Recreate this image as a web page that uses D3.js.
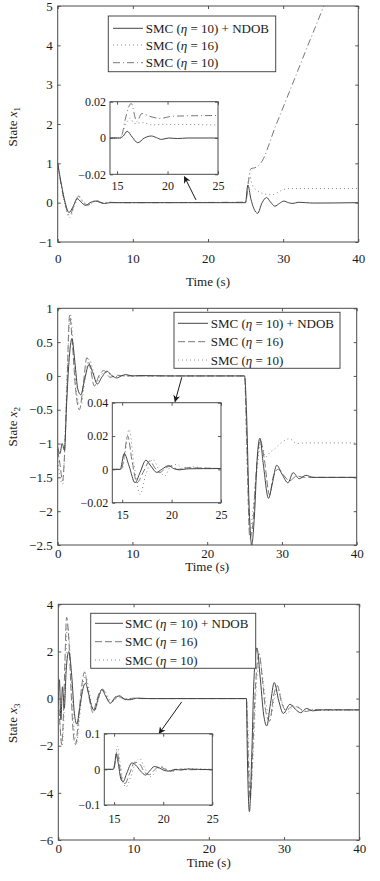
<!DOCTYPE html>
<html><head><meta charset="utf-8">
<script src="https://cdn.jsdelivr.net/npm/d3@7"></script>
<style>
body{margin:0;background:#fff;}
svg text{font-family:"Liberation Serif","Times New Roman",serif;fill:#1a1a1a;}
</style></head><body><svg id="c" width="380" height="881"></svg>
<script>
// ---------------- DATA ----------------
const timeTicks = [0, 10, 20, 30, 40];
const insetTimeTicks = [15, 20, 25];
const x1Ticks = [-1, 0, 1, 2, 3, 4, 5];
const x2Ticks = [-2.5, -2, -1.5, -1, -0.5, 0, 0.5, 1];
const x3Ticks = [-6, -4, -2, 0, 2, 4];
const inset1Ticks = [-0.02, 0, 0.02];
const inset2Ticks = [-0.02, 0, 0.02, 0.04];
const inset3Ticks = [-0.1, 0, 0.1];
const legendEta1 = ["10", "16", "10"];
const legendEta2 = ["10", "16", "10"];
const legendEta3 = ["10", "16", "10"];
const legendSuffix = [" + NDOB", "", ""];

// State x1 : [time, value]
const x1_ndob = [[0,1],[0.5,0.45],[1,0.0],[1.5,-0.25],[2,-0.12],[2.6,0.1],[3.1,0.02],[3.7,-0.07],[4.3,0],[5,0.04],[5.6,0.01],[6.2,-0.02],[7,0],[10,0],[25,0],[25.3,0.45],[25.7,0.1],[26.1,-0.15],[26.6,-0.27],[27.2,0],[27.8,0.13],[28.3,0.02],[28.9,-0.09],[29.5,-0.02],[30.1,0.04],[30.7,0],[31.3,-0.02],[32,0.01],[33,0],[34,-0.01],[40,0]];
const x1_eta16 = [[0,1],[0.5,0.4],[1,-0.1],[1.6,-0.38],[2.2,-0.1],[2.8,0.15],[3.4,0],[4,-0.08],[4.6,0],[5.2,0.05],[6,-0.02],[7,0.01],[8,0],[25,0.007],[25.5,0.72],[25.9,0.45],[26.6,0.3],[27.6,0.22],[28.5,0.2],[29.3,0.26],[30,0.33],[31,0.36],[40,0.36]];
const x1_eta10 = [[0,1],[0.5,0.42],[1,-0.05],[1.6,-0.32],[2.2,-0.05],[2.8,0.17],[3.4,0.02],[4,-0.06],[4.6,0],[5.2,0.05],[6,-0.01],[7,0.01],[8,0],[25,0.012],[25.4,0.55],[25.7,0.86],[26.4,0.9],[27,1.0],[29,1.95],[31,2.9],[33,3.86],[35.4,5.0],[36,5.3]];
const x1in_ndob = [[14.3,0],[15.3,0],[15.6,0.001],[16,0.0037],[16.5,0.0005],[17.05,-0.0026],[17.7,0],[18.4,0.0011],[18.9,0.0002],[19.4,-0.0008],[20.1,0],[21,-0.0003],[22,0],[25,0]];
const x1in_eta16 = [[14.3,0],[15.3,0],[15.6,0.004],[16,0.009],[16.3,0.011],[16.7,0.008],[17.5,0.0085],[18.5,0.0072],[19.5,0.0075],[25,0.0072]];
const x1in_eta10 = [[14.3,0],[15.3,0],[15.5,0.002],[15.8,0.01],[16.4,0.019],[16.95,0.009],[17.45,0.0135],[18.2,0.012],[19.3,0.0108],[20.5,0.012],[25,0.0124]];

// State x2
const x2_ndob = [[0,-1.05],[0.3,-1.15],[0.6,-1.0],[0.9,-1.1],[1.2,-0.4],[1.5,0.2],[1.9,0.55],[2.3,0.2],[2.7,-0.2],[3.1,-0.28],[3.6,-0.05],[4.2,0.17],[4.7,0.05],[5.3,-0.12],[5.9,-0.02],[6.6,0.07],[7.2,0.01],[7.9,-0.03],[8.5,0],[9.1,0.02],[10,0],[11,0.005],[15,0],[25,0],[25.25,-0.5],[25.6,-1.9],[25.95,-2.5],[26.3,-2.1],[26.7,-1.2],[27.05,-0.92],[27.5,-1.3],[28.2,-1.81],[28.7,-1.6],[29.3,-1.32],[30,-1.45],[30.8,-1.58],[31.5,-1.43],[32.3,-1.52],[33.2,-1.47],[34.2,-1.5],[40,-1.5]];
const x2_eta16 = [[0,-1.1],[0.3,-1.3],[0.65,-1.55],[0.9,-1.2],[1.2,-0.3],[1.6,0.9],[1.95,0.5],[2.4,-0.2],[2.9,-0.5],[3.4,-0.15],[3.9,0.27],[4.4,0.1],[4.9,-0.15],[5.5,0],[6.2,0.08],[7,-0.02],[8,0.01],[9,0],[25,0],[25.3,-1.0],[25.7,-2.4],[26.1,-2.2],[26.5,-1.5],[27.1,-0.95],[27.6,-1.2],[28.35,-1.76],[28.8,-1.5],[29.5,-1.38],[30.1,-1.45],[31,-1.55],[32,-1.48],[33,-1.5],[40,-1.5]];
const x2_eta10 = [[0,-1.2],[0.3,-1.5],[0.7,-1.6],[1.0,-0.8],[1.35,0.3],[1.7,0.92],[2.1,0.4],[2.6,-0.3],[3.1,-0.45],[3.6,-0.1],[4.2,0.25],[4.7,0.1],[5.2,-0.1],[5.8,0.02],[6.5,0.05],[7.5,-0.01],[9,0],[25,0],[25.3,-1.2],[25.7,-2.3],[26.1,-2.0],[26.6,-1.45],[27.2,-1.0],[27.8,-1.2],[28.4,-1.13],[29,-1.08],[30,-0.98],[31,-0.93],[32,-1.0],[33,-0.99],[40,-0.99]];
const x2in_ndob = [[14,0],[14.8,0],[15.2,0.0095],[15.7,0.002],[16.3,-0.008],[16.8,-0.002],[17.4,0.0055],[17.9,0.002],[18.5,-0.0018],[19,0],[19.7,0.0022],[20.2,0.0005],[20.8,-0.0003],[21.5,0.0003],[22.5,0.0004],[25,0.0005]];
const x2in_eta16 = [[14,0],[14.9,0],[15.2,0.008],[15.55,0.02],[16,0.005],[16.5,-0.008],[17.1,-0.002],[17.8,0.005],[18.3,0.001],[18.8,-0.002],[19.4,0.001],[20,0.002],[20.6,0],[21.5,0.001],[23,0.0008],[25,0.0005]];
const x2in_eta10 = [[14,0],[15,0],[15.3,0.01],[15.7,0.024],[16.2,0.003],[16.8,-0.015],[17.4,-0.003],[18.1,0.006],[18.7,0],[19.3,-0.004],[19.9,0.002],[20.5,0.003],[21.3,0],[22,0.0015],[23,0.001],[25,0.0005]];

// State x3
const x3_ndob = [[0,0],[0.15,0.8],[0.35,-0.9],[0.55,0.5],[0.8,-0.4],[1.05,1.2],[1.4,2.0],[1.8,0.9],[2.1,-0.5],[2.45,-1.08],[2.85,-0.4],[3.2,0.3],[3.6,0.65],[4,0.25],[4.4,-0.3],[4.8,-0.5],[5.3,0],[5.8,0.38],[6.3,0.1],[6.9,-0.2],[7.5,0],[8.1,0.12],[8.8,-0.02],[9.5,-0.05],[10.5,0.02],[12,0],[25,0],[25.1,-2],[25.4,-4.8],[25.7,-2.5],[26,0.8],[26.4,2.15],[26.8,1.0],[27.3,-0.7],[27.7,-1.16],[28.2,-0.2],[28.7,0.68],[29.3,-0.1],[29.9,-0.63],[30.8,-0.24],[31.5,-0.45],[32.2,-0.6],[33,-0.42],[33.8,-0.52],[35,-0.48],[40,-0.48]];
const x3_eta16 = [[0,0],[0.2,-1],[0.45,-1.95],[0.7,-0.5],[0.9,1.8],[1.1,3.45],[1.4,2.5],[1.7,0.3],[2,-1.5],[2.3,-1.95],[2.7,-0.8],[3.1,0.5],[3.5,1.13],[3.9,0.4],[4.3,-0.3],[4.6,-0.6],[5,-0.2],[5.5,0.3],[5.9,0.4],[6.5,0],[7,-0.15],[7.7,0.1],[8.3,0.05],[9,-0.05],[10,0.02],[11,0],[25,0],[25.15,-1.5],[25.5,-4.3],[25.8,-2.5],[26.2,0.5],[26.7,1.9],[27.1,0.9],[27.6,-0.6],[28.1,-0.95],[28.6,0.1],[29.1,0.55],[29.7,-0.2],[30.3,-0.5],[31.2,-0.3],[32,-0.4],[32.8,-0.55],[34,-0.47],[40,-0.48]];
const x3_eta10 = [[0,0],[0.25,-1.2],[0.5,-2.0],[0.75,-0.8],[1,1.5],[1.2,3.1],[1.5,2.3],[1.8,0.4],[2.1,-1.3],[2.4,-1.9],[2.8,-0.9],[3.2,0.4],[3.6,1.0],[4,0.5],[4.4,-0.2],[4.8,-0.55],[5.2,-0.2],[5.7,0.3],[6.1,0.35],[6.7,0],[7.3,-0.12],[8,0.08],[9,0],[25,0],[25.2,-1.2],[25.55,-4.0],[25.9,-2.4],[26.3,0.4],[26.8,1.6],[27.2,0.8],[27.7,-0.4],[28.2,-0.8],[28.7,0],[29.2,0.4],[29.8,-0.2],[30.4,-0.65],[31,-0.4],[31.8,-0.35],[32.6,-0.55],[33.5,-0.45],[35,-0.5],[40,-0.48]];
const x3in_ndob = [[14,0],[14.9,0],[15.05,0.01],[15.2,0.043],[15.4,0.02],[15.7,-0.028],[15.9,-0.035],[16.3,-0.01],[16.8,0.018],[17.2,0.012],[17.7,-0.005],[18.2,-0.016],[18.6,-0.005],[19.1,0.008],[19.6,0.004],[20.1,-0.003],[20.6,-0.005],[21.2,0],[21.8,-0.002],[22.5,0.001],[23.5,0],[25,-0.001]];
const x3in_eta16 = [[14,0],[14.9,0],[15.1,0.02],[15.3,0.05],[15.55,0.01],[15.8,-0.03],[16.1,-0.04],[16.6,-0.01],[17.1,0.02],[17.6,0.015],[18.1,-0.008],[18.6,-0.015],[19.1,-0.002],[19.6,0.008],[20.2,0],[20.8,-0.005],[21.5,0.001],[22.5,-0.001],[25,0]];
const x3in_eta10 = [[14,0],[14.9,0],[15.1,0.025],[15.35,0.065],[15.6,0.02],[15.9,-0.03],[16.2,-0.05],[16.7,-0.02],[17.2,0.02],[17.6,0.03],[18.1,0.005],[18.7,-0.02],[19.3,-0.005],[19.8,0.008],[20.4,0],[21,-0.006],[21.6,0],[22.5,0.002],[25,0]];

// ---------------- STYLES / LAYOUT ----------------
const styles = {
  solid:   {stroke:"#444", dash:null},
  dot:     {stroke:"#8a8a8a", dash:"1,3"},
  dash:    {stroke:"#777", dash:"7,3"},
  dashdot: {stroke:"#777", dash:"7,3,1,3"}
};
const fmt = d => String(d).replace("-", "\u2212");

const panels = [
  {frame:{l:57.7,r:358.3,t:6,b:242}, xd:[0,40], yd:[-1,5], yTicks:x1Ticks, sub:"1",
   xPad:11.6, xLabelY:281.7, yLabelY:126.7,
   series:[[x1_ndob,"solid"],[x1_eta16,"dot"],[x1_eta10,"dashdot"]],
   legend:{l:108.3,t:16,r:275.7,b:71.7, rows:[28.3,45,62.7], s0:113, s1:143, tx:145.7, eta:legendEta1},
   inset:{l:110,r:218,t:101.7,b:174.3, xd:[14.3,25], yd:[-0.02,0.02], yTicks:inset1Ticks, xPad:7.4,
     series:[[x1in_ndob,"solid"],[x1in_eta16,"dot"],[x1in_eta10,"dashdot"]]},
   arrow:{from:[18.4,0.07], to:[16.86,0.66]}},
  {frame:{l:57.7,r:356.7,t:308.3,b:545}, xd:[0,40], yd:[-2.5,1], yTicks:x2Ticks, sub:"2",
   xPad:3.6, xLabelY:566.7, yLabelY:426.7,
   series:[[x2_ndob,"solid"],[x2_eta16,"dash"],[x2_eta10,"dot"]],
   legend:{l:174,t:312.3,r:340,b:368.3, rows:[323.3,341.7,360], s0:178, s1:208, tx:210.7, eta:legendEta2},
   inset:{l:112.3,r:221,t:402.7,b:502.7, xd:[14,25], yd:[-0.02,0.04], yTicks:inset2Ticks, xPad:7.4,
     series:[[x2in_ndob,"solid"],[x2in_eta16,"dash"],[x2in_eta10,"dot"]]},
   arrow:{from:[16.6,-0.02], to:[15.7,-0.38]}},
  {frame:{l:58.3,r:359.3,t:604.3,b:840}, xd:[0,40], yd:[-6,4], yTicks:x3Ticks, sub:"3",
   xPad:3.6, xLabelY:862.7, yLabelY:723.3,
   series:[[x3_ndob,"solid"],[x3_eta16,"dash"],[x3_eta10,"dot"]],
   legend:{l:90.7,t:613.3,r:255.7,b:668.3, rows:[623.3,641.7,660], s0:95, s1:123, tx:125, eta:legendEta3},
   inset:{l:104.3,r:212.3,t:733.7,b:805, xd:[14,25], yd:[-0.1,0.1], yTicks:inset3Ticks, xPad:9,
     series:[[x3in_ndob,"solid"],[x3in_eta16,"dash"],[x3in_eta10,"dot"]]},
   arrow:{from:[16.4,-0.14], to:[13.4,-1.48]}}
];

const svg = d3.select("#c");
const defs = svg.append("defs");
defs.append("marker").attr("id","ah").attr("viewBox","0 0 10 10").attr("refX",9).attr("refY",5)
  .attr("markerWidth",9).attr("markerHeight",7).attr("markerUnits","userSpaceOnUse").attr("orient","auto")
  .append("path").attr("d","M0,0 L10,5 L0,10 L3,5 Z").attr("fill","#1a1a1a");

let clipId = 0;
function drawAxes(g, box, xd, yd, xt, yt, fs, xPad, yPad, lineSeries) {
  const x = d3.scaleLinear().domain(xd).range([box.l, box.r]);
  const y = d3.scaleLinear().domain(yd).range([box.b, box.t]);
  g.append("rect").attr("x",box.l).attr("y",box.t).attr("width",box.r-box.l).attr("height",box.b-box.t)
    .attr("fill","#fff");
  const id = "clip" + (clipId++);
  defs.append("clipPath").attr("id",id).append("rect")
    .attr("x",box.l).attr("y",box.t).attr("width",box.r-box.l).attr("height",box.b-box.t);
  const line = d3.line().x(d=>x(d[0])).y(d=>y(d[1])).curve(d3.curveMonotoneX);
  const lg = g.append("g").attr("clip-path",`url(#${id})`);
  // draw lighter series first, solid on top
  lineSeries.slice().reverse().forEach(([data, st]) => {
    const s = styles[st];
    lg.append("path").attr("d", line(data)).attr("fill","none").attr("stroke", s.stroke)
      .attr("stroke-width", 1).attr("stroke-dasharray", s.dash);
  });
  const style = sel => { sel.select(".domain").remove();
    sel.selectAll(".tick line").attr("stroke","#555");
    sel.selectAll("text").attr("font-size", fs).attr("font-family","Liberation Serif").attr("fill","#1a1a1a"); };
  g.append("g").attr("transform",`translate(0,${box.b})`)
    .call(d3.axisBottom(x).tickValues(xt).tickSize(-3).tickPadding(xPad).tickFormat(fmt)).call(style);
  g.append("g").attr("transform",`translate(0,${box.t})`)
    .call(d3.axisTop(x).tickValues(xt).tickSize(-3).tickFormat("")).call(style);
  g.append("g").attr("transform",`translate(${box.l},0)`)
    .call(d3.axisLeft(y).tickValues(yt).tickSize(-3).tickPadding(yPad).tickFormat(fmt)).call(style);
  g.append("g").attr("transform",`translate(${box.r},0)`)
    .call(d3.axisRight(y).tickValues(yt).tickSize(-3).tickFormat("")).call(style);
  g.append("rect").attr("x",box.l).attr("y",box.t).attr("width",box.r-box.l).attr("height",box.b-box.t)
    .attr("fill","none").attr("stroke","#4a4a4a").attr("stroke-width",1);
  return {x, y};
}

panels.forEach(p => {
  const g = svg.append("g");
  const {x, y} = drawAxes(g, p.frame, p.xd, p.yd, timeTicks, p.yTicks, 13, p.xPad, 5, p.series);

  // axis titles
  g.append("text").attr("x",(p.frame.l+p.frame.r)/2).attr("y",p.xLabelY).attr("dy","0.35em")
    .attr("text-anchor","middle").attr("font-size",13).text("Time (s)");
  const yl = g.append("text").attr("transform",`translate(12.7,${p.yLabelY}) rotate(-90)`)
    .attr("text-anchor","middle").attr("dy","0.35em").attr("font-size",13);
  yl.append("tspan").text("State ");
  yl.append("tspan").attr("font-style","italic").text("x");
  yl.append("tspan").attr("font-size",9).attr("dy",3).text(p.sub);

  // arrow
  g.append("line").attr("x1",x(p.arrow.from[0])).attr("y1",y(p.arrow.from[1]))
    .attr("x2",x(p.arrow.to[0])).attr("y2",y(p.arrow.to[1]))
    .attr("stroke","#1a1a1a").attr("stroke-width",1).attr("marker-end","url(#ah)");

  // inset
  const ins = p.inset;
  drawAxes(g.append("g"), ins, ins.xd, ins.yd, insetTimeTicks, ins.yTicks, 12, ins.xPad, 4, ins.series);

  // legend
  const L = p.legend;
  const lgd = g.append("g");
  lgd.append("rect").attr("x",L.l).attr("y",L.t).attr("width",L.r-L.l).attr("height",L.b-L.t)
    .attr("fill","#fff").attr("stroke","#4a4a4a").attr("stroke-width",1);
  p.series.forEach(([data, st], i) => {
    const s = styles[st];
    lgd.append("line").attr("x1",L.s0).attr("x2",L.s1).attr("y1",L.rows[i]).attr("y2",L.rows[i])
      .attr("stroke",s.stroke).attr("stroke-width",1).attr("stroke-dasharray",s.dash);
    const t = lgd.append("text").attr("x",L.tx).attr("y",L.rows[i]).attr("dy","0.35em").attr("font-size",13);
    t.append("tspan").text("SMC (");
    t.append("tspan").attr("font-style","italic").text("\u03B7");
    t.append("tspan").text(" = " + L.eta[i] + ")" + legendSuffix[i]);
  });
});
</script></body></html>
